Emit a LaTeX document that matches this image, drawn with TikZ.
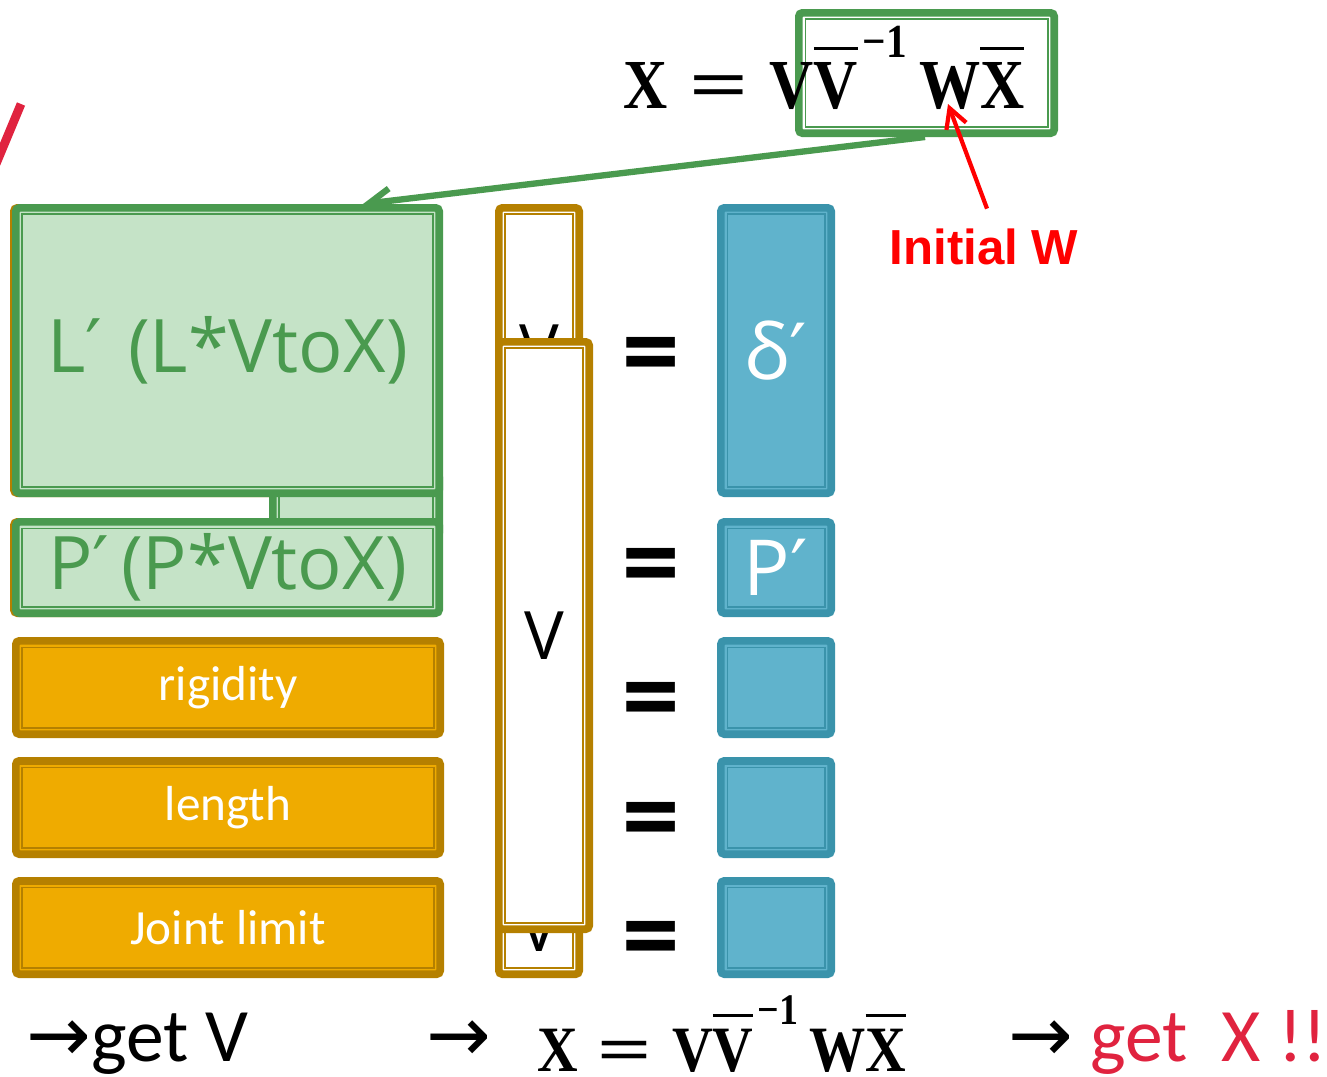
\documentclass[tikz,border=0pt]{standalone}
\usepackage[no-math]{fontspec}
\setmainfont{Carlito}
\newfontfamily\opensans{Open Sans}
\newfontfamily\arrowfont{DejaVu Sans}
\newfontfamily\arialfont{Liberation Sans}
\newfontfamily\eqfont{Liberation Serif}
\usetikzlibrary{arrows.meta,backgrounds}

\definecolor{gfill}{HTML}{C5E3C7}
\definecolor{gline}{HTML}{4A9A4F}
\definecolor{ofill}{HTML}{EFAB00}
\definecolor{oline}{HTML}{B58000}
\definecolor{bfill}{HTML}{60B3CC}
\definecolor{bline}{HTML}{3A93AB}
\definecolor{crimson}{HTML}{E0233F}

\tikzset{
  box/.style 2 args={draw=#2, fill=#1, line width=4.4pt, rounded corners=2pt,
    inner sep=0pt, anchor=north west,
    path picture={\draw[#2, line width=1.1pt, sharp corners]
      ([shift={(3.75pt,-3.75pt)}]path picture bounding box.north west) rectangle
      ([shift={(-3.75pt,3.75pt)}]path picture bounding box.south east);}},
  wh/.style 2 args={minimum width=#1*0.02cm-4.4pt, minimum height=#2*0.02cm-4.4pt},
  greenbox/.style={box={gfill}{gline}, font=\opensans\fontsize{42}{50}\selectfont, text=gline},
  orangebox/.style={box={ofill}{oline}, font=\fontsize{28}{34}\selectfont, text=white},
  bluebox/.style={box={bfill}{bline}, font=\opensans\fontsize{44}{52}\selectfont, text=white},
  vbox/.style={box={white}{oline}, font=\opensans\fontsize{38}{46}\selectfont},
  vtxt/.style={font=\opensans\fontsize{38}{46}\selectfont, inner sep=0pt},
  eqsign/.style={font=\opensans\bfseries\fontsize{57}{60}\selectfont, inner sep=0pt},
  formula/.style={font=\eqfont\bfseries\fontsize{40}{40}\selectfont, inner sep=0pt, anchor=base},
  bottomtxt/.style={font=\fontsize{43}{50}\selectfont, inner sep=0pt, anchor=base west},
  garrow/.style={gline, line width=3.6pt, -{Straight Barb[length=12pt,width=14pt]}},
  redarrow/.style={red, line width=2.4pt, -{Straight Barb[length=11pt,width=12pt]}}
}

\newcommand{\rarr}{{\arrowfont\fontsize{44}{44}\selectfont\color{black}→}}
\newcommand{\prm}{{\arrowfont ′}}
\newcommand{\barred}[1]{\setbox0\hbox{#1}\rlap{\rule[\dimexpr\ht0+7pt\relax]{\wd0}{1.8pt}}\box0}
\newcommand{\Vform}{\scalebox{0.87}[1]{X\hspace{14pt}\scalebox{1.7}[1]{=}\hspace{14pt}V\barred{V}\hspace{3pt}%
    \raisebox{29pt}{\fontsize{27}{27}\selectfont −1}\hspace{8pt}W\barred{X}}}

\begin{document}
\begin{tikzpicture}[x=0.02cm, y=-0.02cm]

    % Page
    \begin{pgfonlayer}{background}
        \fill[white] (0,0) rectangle (1327,1076);
    \end{pgfonlayer}
    \useasboundingbox (0,0) rectangle (1327,1076);

    % Cut-off red letter at the left edge
    \draw[crimson, line width=5pt] (-4,164) -- (21,104);

    % Formula box at the top
    \node[box={none}{gline}, wh={263}{128}] (eqbox) at (795,9) {};
    \node[formula] (eqtop) at (824,108) {\Vform};

    % Left column: boxes behind
    \node[orangebox, wh={431}{293}] (Lback) at (10,204) {};
    \node[orangebox, wh={431}{99}] (Pback) at (10,518) {};
    \node[greenbox, wh={174}{70}] (tab) at (269,470) {};

    % Left column
    \node[greenbox, wh={431}{293}] (Lbox) at (12,204) {L\prm\hspace{0.35em}(L*VtoX)};
    \node[greenbox, wh={431}{99}] (Pbox) at (12,518) {P\prm\hspace{0.16em}(P*VtoX)};
    \node[orangebox, wh={432}{101}] (rigid) at (12,637) {rigidity};
    \node[orangebox, wh={432}{101}] (length) at (12,757) {length};
    \node[orangebox, wh={432}{101}] (joint) at (12,877) {Joint limit};

    % V column (two stacked copies)
    \node[vbox, wh={88}{774}] (Vback) at (495,204) {};
    \node[vtxt] (Vtop) at (539,349) {V};
    \node[vtxt] (Vbot) at (539,928) {V};
    \node[vbox, wh={98}{595}] (Vfront) at (495,338) {V};

    % Equal signs
    \foreach \y [count=\i] in {362,573,707,827,946}
        \node[eqsign] (eq\i) at (651,\y) {=};

    % Right column
    \node[bluebox, wh={118}{293}] (delta) at (717,204) {δ\prm};
    \node[bluebox, wh={118}{99}] (Pout) at (717,518) {P\prm};
    \node[bluebox, wh={118}{101}] (out3) at (717,637) {};
    \node[bluebox, wh={118}{101}] (out4) at (717,757) {};
    \node[bluebox, wh={118}{101}] (out5) at (717,877) {};

    % Arrow from the formula box to L'
    \begin{pgfonlayer}{background}
        \draw[garrow] ([xshift=-0.03cm]eqbox.south) -- ([xshift=2.71cm]Lbox.north);
    \end{pgfonlayer}

    % Initial W
    \node[text=red, font=\arialfont\bfseries\fontsize{28}{34}\selectfont, inner sep=0pt]
        (initw) at (984,247) {Initial W};
    \coordinate (wtip) at (948,104);
    \draw[redarrow] ([xshift=0.06cm,yshift=0.4cm]initw.north) -- (wtip);

    % Bottom line
    \node[bottomtxt] (getv) at (26,1061) {\rarr get V};
    \node[bottomtxt] (arr2) at (426,1061) {\rarr};
    \node[formula] (eqbot) at (722,1071) {\scalebox{0.92}{\Vform}};
    \node[bottomtxt, text=crimson] (getx) at (1008,1061) {\rarr\ get\ \ X !!};

\end{tikzpicture}
\end{document}
